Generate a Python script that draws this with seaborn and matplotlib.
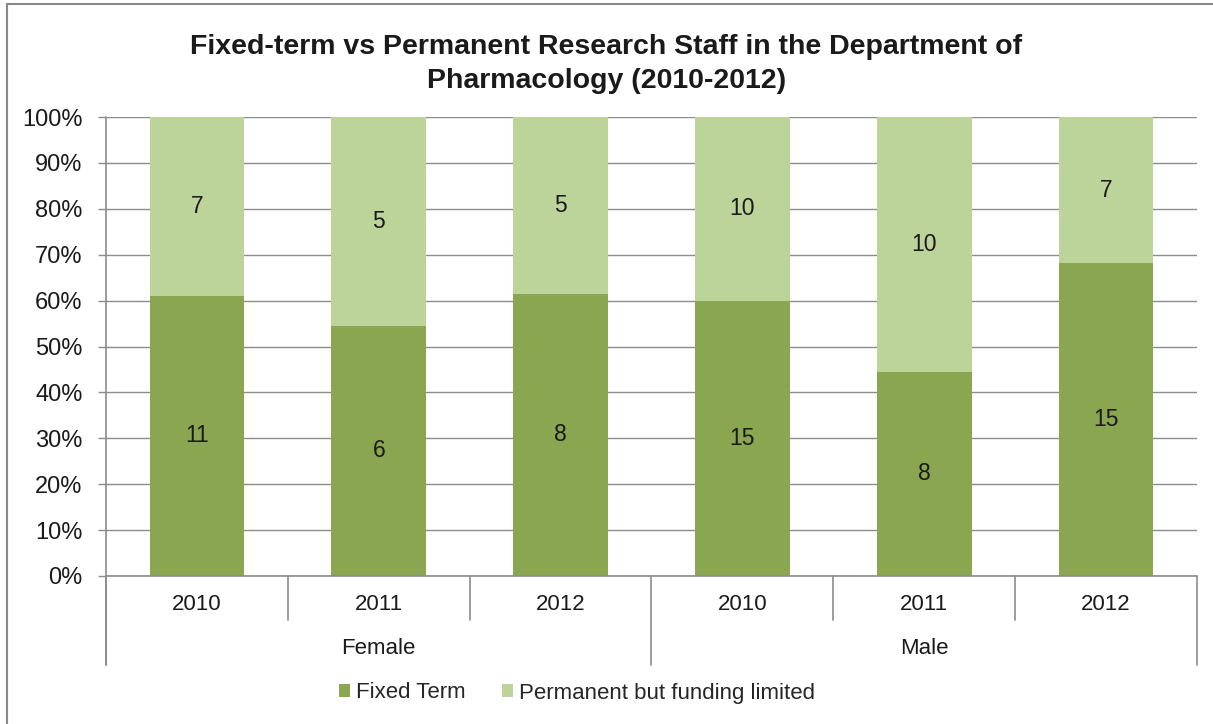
import numpy as np
import pandas as pd
import matplotlib
matplotlib.use("Agg")
import matplotlib.pyplot as plt
import matplotlib.patches as mpatches
import matplotlib.lines as mlines
import matplotlib.transforms as mtrans
import seaborn as sns

# ---- data ----
genders = ["Female", "Female", "Female", "Male", "Male", "Male"]
years = ["2010", "2011", "2012", "2010", "2011", "2012"]
fixed_term = [11, 6, 8, 15, 8, 15]
permanent = [7, 5, 5, 10, 10, 7]
series_names = ["Fixed Term", "Permanent but funding limited"]
title = "Fixed-term vs Permanent Research Staff in the Department of\nPharmacology (2010-2012)"

dark = "#8ba650"
light = "#bcd39a"
grid_c = "#8c8c8c"

sns.set_theme(style="white")
plt.rcParams['font.family'] = ['Liberation Sans', 'DejaVu Sans']

keys = [f"{g}|{y}" for g, y in zip(genders, years)]
totals = [a + b for a, b in zip(fixed_term, permanent)]
fixed_pct = [100.0 * a / t for a, t in zip(fixed_term, totals)]
df = pd.DataFrame({"key": keys, "fixed": fixed_pct, "total": [100.0] * len(keys)})

W, H = 1213, 724
fig = plt.figure(figsize=(W / 100, H / 100), dpi=100)
ax_l, ax_r, ax_t, ax_b = 106, 1197, 117, 576
ax = fig.add_axes([ax_l / W, 1 - ax_b / H, (ax_r - ax_l) / W, (ax_b - ax_t) / H])

sns.barplot(data=df, x="key", y="total", order=keys, color=light, width=0.52,
            saturation=1, ax=ax, zorder=3, edgecolor="none")
sns.barplot(data=df, x="key", y="fixed", order=keys, color=dark, width=0.52,
            saturation=1, ax=ax, zorder=4, edgecolor="none")

ax.set_xlim(-0.5, len(keys) - 0.5)
ax.set_ylim(0, 100)
ax.set_yticks(np.arange(0, 101, 10))
ax.set_yticklabels([f"{v}%" for v in range(0, 101, 10)], fontsize=17, color="#1a1a1a")
ax.yaxis.grid(True, color=grid_c, lw=1, zorder=0)
ax.set_axisbelow(True)
ax.tick_params(axis="y", left=True, length=6, width=1, color=grid_c, pad=11)
ax.tick_params(axis="x", bottom=False, labelbottom=False)
ax.set_xlabel("")
ax.set_ylabel("")
for s in ["top", "right", "bottom", "left"]:
    ax.spines[s].set_visible(False)

# value labels
for i in range(len(keys)):
    ax.text(i, fixed_pct[i] / 2, str(fixed_term[i]), ha="center", va="center",
            fontsize=16.5, color="#1a1a1a", zorder=5)
    ax.text(i, fixed_pct[i] + (100 - fixed_pct[i]) / 2, str(permanent[i]), ha="center",
            va="center", fontsize=16.5, color="#1a1a1a", zorder=5)

# axis lines and category separators
tr = mtrans.blended_transform_factory(ax.transData, ax.transAxes)
hpx = ax_b - ax_t
short_y = -(620 - ax_b) / hpx
long_y = -(665 - ax_b) / hpx
ax.plot([-0.5, len(keys) - 0.5], [0, 0], transform=tr, color=grid_c, lw=1.2, clip_on=False, zorder=6)
ax.plot([-0.5, -0.5], [1, long_y], transform=tr, color=grid_c, lw=1.2, clip_on=False, zorder=6)
for i in range(len(keys) + 1):
    xb = i - 0.5
    boundary_group = (i == 0 or i == len(keys) or genders[i] != genders[i - 1])
    y1 = long_y if boundary_group else short_y
    ax.plot([xb, xb], [0, y1], transform=tr, color=grid_c, lw=1.2, clip_on=False)

year_y = -(605 - ax_b) / hpx
grp_y = -(648 - ax_b) / hpx
for i, y in enumerate(years):
    ax.text(i, year_y, y, transform=tr, ha="center", va="center", fontsize=16, color="#1a1a1a")
groups = []
for i, g in enumerate(genders):
    if not groups or groups[-1][0] != g:
        groups.append([g, i, i])
    else:
        groups[-1][2] = i
for g, a, b in groups:
    ax.text((a + b) / 2, grp_y, g, transform=tr, ha="center", va="center", fontsize=16, color="#1a1a1a")

# title
fig.text(0.5, 1 - 64 / H, title, ha="center", va="center", fontsize=20.5, fontweight="bold",
         color="#1a1a1a", linespacing=1.4)

# legend
handles = [mpatches.Patch(facecolor=dark, edgecolor="none", label=series_names[0]),
           mpatches.Patch(facecolor=light, edgecolor="none", label=series_names[1])]
fig.legend(handles=handles, loc="center", bbox_to_anchor=(577 / W, 1 - 693 / H), ncol=2,
           frameon=False, fontsize=16, handlelength=0.5, handleheight=0.5,
           handletextpad=0.3, columnspacing=1.6)

# outer frame (left and top visible)
fig.add_artist(mlines.Line2D([7 / W, 7 / W], [0, 1 - 4 / H], transform=fig.transFigure, color="#888888", lw=1.5))
fig.add_artist(mlines.Line2D([7 / W, 1], [1 - 4 / H, 1 - 4 / H], transform=fig.transFigure, color="#888888", lw=1.5))

fig.savefig("out.png", dpi=100, facecolor="white")
